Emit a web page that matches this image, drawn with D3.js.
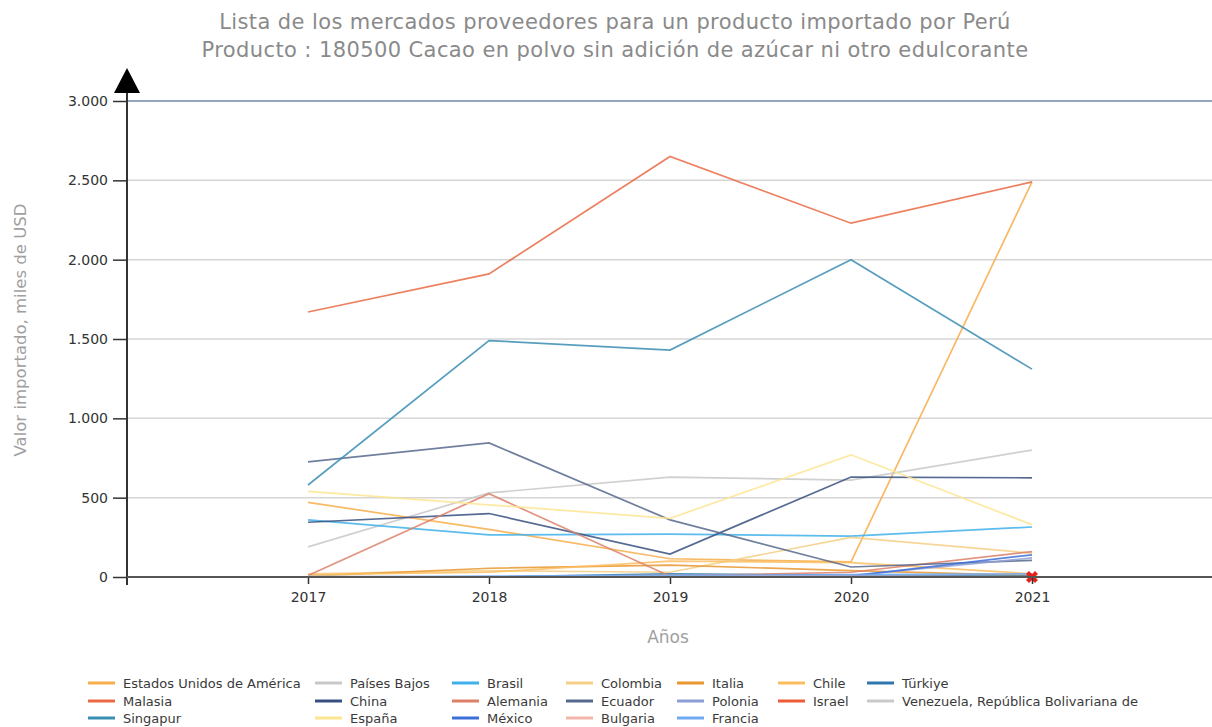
<!DOCTYPE html>
<html>
<head>
<meta charset="utf-8">
<script src="https://cdn.jsdelivr.net/npm/d3@7"></script>
<style>
  body { margin: 0; background: #fff; }
  svg { display: block; font-family: "DejaVu Sans", sans-serif; }
</style>
</head>
<body>
<svg width="1212" height="727"></svg>
<script>
var years = [2017, 2018, 2019, 2020, 2021];
var yTicks = [0, 500, 1000, 1500, 2000, 2500, 3000];

var countries = ["Estados Unidos de América", "Países Bajos", "Brasil", "Colombia", "Italia", "Chile", "Türkiye",
  "Malasia", "China", "Alemania", "Ecuador", "Polonia", "Israel", "Venezuela, República Bolivariana de",
  "Singapur", "España", "México", "Bulgaria", "Francia"];

var colors = ["#f7ad4a", "#c8c8c8", "#3fb0ea", "#f5cf86", "#e8962f", "#fbbd5e", "#2e77ad",
  "#ea6a45", "#37507f", "#dc8068", "#56698c", "#8d9fd2", "#ec5c38", "#c9c9c9",
  "#3a8db3", "#fde590", "#3d6fda", "#f3b6ac", "#6ea9f2"];

// miles de USD, one array per country (null = no data)
var usa       = [470, 300, 115, 95, 2490];
var paisesBajos = [190, 530, 630, 610, 800];
var brasil    = [360, 265, 270, 258, 315];
var colombia  = [20, 40, 30, 250, 150];
var italia    = [5, 55, 75, 40, 10];
var chile     = [15, 30, 100, 90, 20];
var turkiye   = [0, 0, 20, 10, 5];
var malasia   = [1670, 1910, 2650, 2230, 2490];
var china     = [345, 400, 145, 630, 625];
var alemania  = [10, 525, 5, 30, 160];
var ecuador   = [725, 845, 360, 63, 105];
var polonia   = [0, 0, 0, 10, 120];
var israel    = [null, null, null, null, 0];
var venezuela = [5, 0, 0, 0, 0];
var singapur  = [580, 1490, 1430, 2000, 1310];
var espana    = [540, 455, 370, 770, 330];
var mexico    = [null, null, 0, 5, 140];
var bulgaria  = [0, 0, 10, 5, 0];
var francia   = [0, 5, 10, 15, 20];

var values = [usa, paisesBajos, brasil, colombia, italia, chile, turkiye,
  malasia, china, alemania, ecuador, polonia, israel, venezuela,
  singapur, espana, mexico, bulgaria, francia];

var svg = d3.select("svg");

var x = d3.scaleLinear().domain([2016, 2022]).range([127, 1213]);
var y = d3.scaleLinear().domain([0, 3000]).range([577, 101]);

// title
svg.append("text").attr("x", 615).attr("y", 29).attr("text-anchor", "middle")
  .attr("fill", "#8a8a8a").style("font-size", "21px").style("letter-spacing", "0.4px")
  .text("Lista de los mercados proveedores para un producto importado por Perú");
svg.append("text").attr("x", 615).attr("y", 57).attr("text-anchor", "middle")
  .attr("fill", "#8a8a8a").style("font-size", "21px").style("letter-spacing", "0.4px")
  .text("Producto : 180500 Cacao en polvo sin adición de azúcar ni otro edulcorante");

// gridlines
svg.append("g").selectAll("line").data(yTicks.filter(function(d) { return d > 0 && d < 3000; }))
  .enter().append("line")
  .attr("x1", 127).attr("x2", 1212)
  .attr("y1", function(d) { return y(d); }).attr("y2", function(d) { return y(d); })
  .attr("stroke", "#d6d6d6").attr("stroke-width", 1.5);

svg.append("line").attr("x1", 127).attr("x2", 1212).attr("y1", y(3000)).attr("y2", y(3000))
  .attr("stroke", "#6f88a8").attr("stroke-width", 1.5);

// lines
var line = d3.line()
  .defined(function(d) { return d != null; })
  .x(function(d, i) { return x(years[i]); })
  .y(function(d) { return y(d); });

svg.append("g").selectAll("path").data(values).enter().append("path")
  .attr("d", line)
  .attr("fill", "none")
  .attr("stroke", function(d, i) { return colors[i]; })
  .attr("stroke-width", 1.7)
  .attr("stroke-opacity", 0.85);

// single point marker (Israel)
svg.append("path")
  .attr("d", d3.symbol().type(d3.symbolCross).size(90)())
  .attr("transform", "translate(" + x(2021) + "," + y(israel[4]) + ") rotate(45)")
  .attr("fill", "#e8201c");

// y axis
var yAxis = d3.axisLeft(y).tickValues(yTicks).tickSize(14).tickPadding(5)
  .tickFormat(function(d) { return d3.format(",")(d).replace(/,/g, "."); });
var gy = svg.append("g").attr("transform", "translate(127,0)").call(yAxis);
gy.select(".domain").remove();
gy.selectAll(".tick line").attr("stroke", "#333").attr("stroke-width", 1.5);
gy.selectAll(".tick text").attr("fill", "#333").style("font-size", "14px").style("font-family", "DejaVu Sans");
svg.append("line").attr("x1", 127).attr("x2", 127).attr("y1", 90).attr("y2", 585)
  .attr("stroke", "#333").attr("stroke-width", 2);
svg.append("path").attr("d", "M114,93 L127,68 L140,93 Z").attr("fill", "#000");

// x axis
var xAxis = d3.axisBottom(x).tickValues(years).tickSize(7).tickPadding(8).tickFormat(d3.format("d"));
var gx = svg.append("g").attr("transform", "translate(0,577)").call(xAxis);
gx.select(".domain").remove();
gx.selectAll(".tick line").attr("stroke", "#333").attr("stroke-width", 1.5);
gx.selectAll(".tick text").attr("fill", "#333").style("font-size", "14px").style("font-family", "DejaVu Sans");
svg.append("line").attr("x1", 127).attr("x2", 1212).attr("y1", 577).attr("y2", 577)
  .attr("stroke", "#555").attr("stroke-width", 2);

// axis titles
svg.append("text").attr("transform", "translate(20,330) rotate(-90)").attr("text-anchor", "middle")
  .attr("dy", "0.35em").attr("fill", "#a0a0a0").style("font-size", "16.5px").text("Valor importado, miles de USD");
svg.append("text").attr("x", 668).attr("y", 643).attr("text-anchor", "middle")
  .attr("fill", "#a0a0a0").style("font-size", "17px").text("Años");

// legend
var colX = [88, 315, 452, 566, 677, 778, 867];
var rowY = [683, 701, 718];
var legend = svg.append("g").selectAll("g").data(countries).enter().append("g")
  .attr("transform", function(d, i) { return "translate(" + colX[i % 7] + "," + rowY[Math.floor(i / 7)] + ")"; });
legend.append("line").attr("x1", 0).attr("x2", 27).attr("y1", 0).attr("y2", 0)
  .attr("stroke", function(d, i) { return colors[i]; }).attr("stroke-width", 3);
legend.append("text").attr("x", 35).attr("y", 4.5).attr("fill", "#3a3a3a")
  .style("font-size", "13px").text(function(d) { return d; });
</script>
</body>
</html>
